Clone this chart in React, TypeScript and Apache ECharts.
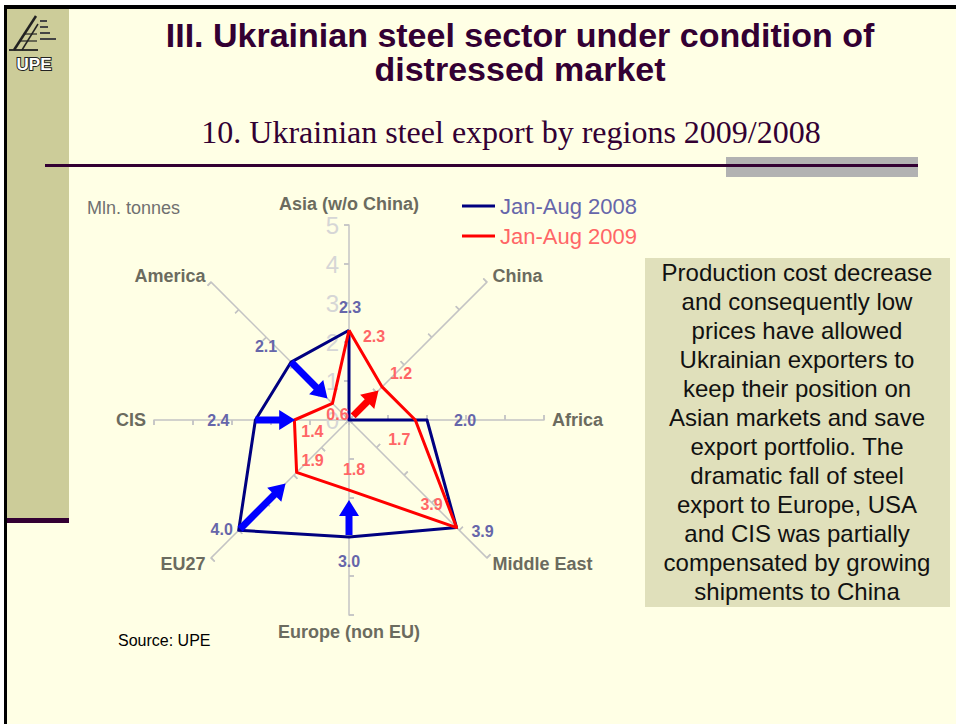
import React, { useEffect, useRef } from 'react';
import * as echarts from 'echarts';

// ---------- data ----------
const indicators = ['Asia (w/o China)', 'America', 'CIS', 'EU27', 'Europe (non EU)', 'Middle East', 'Africa', 'China'];
const axisMin = 0;
const axisMax = 5;
const seriesNames = ['Jan-Aug 2008', 'Jan-Aug 2009'];
const values2008 = [2.3, 2.1, 2.4, 4.0, 3.0, 3.9, 2.0, 0];
const values2009 = [2.3, 0.6, 1.4, 1.9, 1.8, 3.9, 1.7, 1.2];
// annotation arrows (indicator index, from value, to value, series)
const arrowIndicator = [1, 2, 3, 4, 7];
const arrowFrom = [2.1, 2.4, 3.95, 2.95, 0.15];
const arrowTo = [0.78, 1.38, 2.3, 2.05, 1.07];
const arrowSeries = [0, 0, 0, 0, 1];

const titleText = 'III. Ukrainian steel sector under condition of\ndistressed market';
const subtitleText = '10. Ukrainian steel export by regions 2009/2008';
const unitText = 'Mln. tonnes';
const sourceText = 'Source: UPE';
const noteLines = [
  'Production cost decrease',
  'and consequently low',
  'prices have allowed',
  'Ukrainian exporters to',
  'keep their position on',
  'Asian markets and save',
  'export portfolio. The',
  'dramatic fall of steel',
  'export to Europe, USA',
  'and CIS was partially',
  'compensated by growing',
  'shipments to China',
];

// ---------- styles ----------
const SANS = '"Liberation Sans", Arial, sans-serif';
const SERIF = '"Liberation Serif", "Times New Roman", serif';
const lineColors = ['#000080', '#FF0000'];
const labelColors = ['#6666AA', '#FF6666'];
const arrowColors = ['#0000FF', '#FF0000'];
const labelOffsets: (number[] | null)[][] = [
  [[1, -23], [-25, -16], [-37, 0], [-17, -1], [0, 24], [26, 4], [38, 0], null],
  [[25, 6], [5, 11], [18, 11], [16, -12], [5, -21], [-25, -23], [-16, 19], [19, -13]],
];
const CENTER = [349, 420];
const RADIUS = 195;

function arrowPoints(p0: number[], p1: number[], shaftW = 7, headW = 20, headL = 16) {
  const dx = p1[0] - p0[0];
  const dy = p1[1] - p0[1];
  const len = Math.hypot(dx, dy) || 1;
  const ux = dx / len, uy = dy / len;
  const nx = -uy, ny = ux;
  const bx = p1[0] - ux * headL, by = p1[1] - uy * headL;
  return [
    [p0[0] + nx * shaftW / 2, p0[1] + ny * shaftW / 2],
    [bx + nx * shaftW / 2, by + ny * shaftW / 2],
    [bx + nx * headW / 2, by + ny * headW / 2],
    [p1[0], p1[1]],
    [bx - nx * headW / 2, by - ny * headW / 2],
    [bx - nx * shaftW / 2, by - ny * shaftW / 2],
    [p0[0] - nx * shaftW / 2, p0[1] - ny * shaftW / 2],
  ];
}

function baseGraphics(): any[] {
  return [
    // white page margins
    { type: 'rect', silent: true, shape: { x: 0, y: 0, width: 956, height: 5 }, style: { fill: '#FFFFFF' } },
    { type: 'rect', silent: true, shape: { x: 0, y: 0, width: 4, height: 724 }, style: { fill: '#FFFFFF' } },
    // black frame
    { type: 'rect', silent: true, shape: { x: 4, y: 5, width: 952, height: 4 }, style: { fill: '#000000' } },
    { type: 'rect', silent: true, shape: { x: 4, y: 5, width: 3, height: 719 }, style: { fill: '#000000' } },
    // sidebar
    { type: 'rect', silent: true, shape: { x: 7, y: 9, width: 62, height: 509 }, style: { fill: '#CCCC99' } },
    { type: 'rect', silent: true, shape: { x: 7, y: 518, width: 62, height: 5 }, style: { fill: '#330033' } },
    // logo
    { type: 'polyline', silent: true, shape: { points: [[14, 50], [36, 16]] }, style: { stroke: '#222222', lineWidth: 2.5, fill: null } },
    { type: 'polyline', silent: true, shape: { points: [[22, 50], [38, 24]] }, style: { stroke: '#222222', lineWidth: 1.5, fill: null } },
    { type: 'polyline', silent: true, shape: { points: [[24, 34], [37, 34]] }, style: { stroke: '#222222', lineWidth: 1.2, fill: null } },
    { type: 'polyline', silent: true, shape: { points: [[20, 41], [37, 41]] }, style: { stroke: '#222222', lineWidth: 1.2, fill: null } },
    { type: 'polyline', silent: true, shape: { points: [[9, 50], [38, 50]] }, style: { stroke: '#222222', lineWidth: 1.8, fill: null } },
    { type: 'rect', silent: true, shape: { x: 40, y: 20, width: 7, height: 2 }, style: { fill: '#444444' } },
    { type: 'rect', silent: true, shape: { x: 40, y: 26, width: 8, height: 2 }, style: { fill: '#444444' } },
    { type: 'rect', silent: true, shape: { x: 40, y: 32, width: 10, height: 2 }, style: { fill: '#444444' } },
    { type: 'rect', silent: true, shape: { x: 40, y: 38, width: 16, height: 2 }, style: { fill: '#444444' } },
    {
      type: 'text', silent: true, x: 34, y: 64,
      style: { text: 'UPE', font: `bold 17px ${SANS}`, fill: '#FFFFFF', stroke: '#222222', lineWidth: 2, align: 'center', verticalAlign: 'middle' },
    },
    // title
    {
      type: 'text', silent: true, x: 520, y: 35,
      style: { text: 'III. Ukrainian steel sector under condition of', font: `bold 34px ${SANS}`, fill: '#330033', align: 'center', verticalAlign: 'middle' },
    },
    {
      type: 'text', silent: true, x: 520, y: 69,
      style: { text: 'distressed market', font: `bold 34px ${SANS}`, fill: '#330033', align: 'center', verticalAlign: 'middle' },
    },
    {
      type: 'text', silent: true, x: 511, y: 132,
      style: { text: subtitleText, font: `32px ${SERIF}`, fill: '#330033', align: 'center', verticalAlign: 'middle' },
    },
    { type: 'rect', silent: true, shape: { x: 726, y: 157, width: 192, height: 20 }, style: { fill: '#B2B2B2' } },
    { type: 'rect', silent: true, shape: { x: 45, y: 164, width: 873, height: 3 }, style: { fill: '#330033' } },
    // unit & source
    {
      type: 'text', silent: true, x: 87, y: 208,
      style: { text: unitText, font: `18px ${SANS}`, fill: '#707070', align: 'left', verticalAlign: 'middle' },
    },
    {
      type: 'text', silent: true, x: 118, y: 640,
      style: { text: sourceText, font: `16px ${SANS}`, fill: '#000000', align: 'left', verticalAlign: 'middle' },
    },
    // note box
    { type: 'rect', silent: true, shape: { x: 645, y: 258, width: 305, height: 349 }, style: { fill: '#E0E0BB' } },
    {
      type: 'text', silent: true, x: 797, y: 258,
      style: { text: noteLines.join('\n'), font: `24px ${SANS}`, lineHeight: 29, fill: '#111111', align: 'center', verticalAlign: 'top' },
    },
  ];
}

function buildOption(extraGraphics: any[]) {
  const allValues = [values2008, values2009];
  const mainSeries = allValues.map((vals, s) => ({
    type: 'radar',
    radarIndex: 0,
    name: seriesNames[s],
    symbol: 'none',
    silent: true,
    z: 2,
    emphasis: { disabled: true },
    lineStyle: { color: lineColors[s], width: 3 },
    itemStyle: { color: lineColors[s] },
    data: [{ value: vals, name: seriesNames[s], lineStyle: { color: lineColors[s], width: 3 }, itemStyle: { color: lineColors[s] } }],
  }));
  const labelSeries: any[] = [];
  allValues.forEach((vals, s) => {
    vals.forEach((v, k) => {
      const off = labelOffsets[s][k];
      if (!off) return;
      labelSeries.push({
        type: 'radar',
        radarIndex: 0,
        name: `label-${s}-${k}`,
        symbol: 'circle',
        symbolSize: 1,
        silent: true,
        z: 4,
        emphasis: { disabled: true },
        itemStyle: { color: 'rgba(0,0,0,0)', borderWidth: 0 },
        lineStyle: { width: 0, opacity: 0 },
        label: {
          show: true,
          position: 'inside',
          offset: off,
          color: labelColors[s],
          fontSize: 16,
          fontWeight: 'bold',
          fontFamily: SANS,
          formatter: (p: any) => (p.value === v ? v.toFixed(1) : ''),
        },
        data: [{ value: vals, name: `label-${s}-${k}` }],
      });
    });
  });

  return {
    animation: false,
    backgroundColor: '#FFFFE5',
    legend: {
      orient: 'vertical',
      left: 462,
      top: 195,
      padding: 0,
      itemWidth: 33,
      itemHeight: 3,
      itemGap: 8,
      icon: 'rect',
      selectedMode: false,
      textStyle: { fontSize: 22, fontFamily: SANS },
      data: seriesNames.map((n, s) => ({ name: n, textStyle: { color: labelColors[s] }, itemStyle: { color: lineColors[s] } })),
    },
    radar: [
      {
        center: CENTER,
        radius: RADIUS,
        startAngle: 90,
        splitNumber: 5,
        shape: 'polygon',
        axisNameGap: 8,
        indicator: indicators.map((name, i) => {
          const ind: any = { name, min: axisMin, max: axisMax };
          if (i === 0) {
            ind.axisLabel = { show: true, fontSize: 24, color: '#D6D6D6', margin: 10, fontFamily: SANS };
          }
          return ind;
        }),
        axisName: { color: '#6B6B5F', fontSize: 18, fontWeight: 'bold', fontFamily: SANS },
        axisLine: { show: true, lineStyle: { color: '#C4C4C4', width: 1.5 } },
        axisTick: { show: true, length: 5, lineStyle: { color: '#C4C4C4', width: 1.5 } },
        axisLabel: { show: false },
        splitLine: { show: false },
        splitArea: { show: false },
      },
      {
        center: CENTER,
        radius: RADIUS,
        startAngle: 90,
        splitNumber: 5,
        shape: 'polygon',
        indicator: indicators.map(() => ({ name: '', min: axisMin, max: axisMax })),
        axisName: { show: false },
        axisLine: { show: false },
        axisTick: { show: true, inside: true, length: 5, lineStyle: { color: '#C4C4C4', width: 1.5 } },
        axisLabel: { show: false },
        splitLine: { show: false },
        splitArea: { show: false },
      },
    ],
    graphic: [...baseGraphics(), ...extraGraphics],
    series: [...mainSeries, ...labelSeries],
  };
}

export default function App() {
  const ref = useRef<HTMLDivElement>(null);
  useEffect(() => {
    document.body.style.margin = '0';
    const chart = echarts.init(ref.current!, null, { renderer: 'svg' });
    chart.setOption(buildOption([]) as any);
    let arrows: any[] = [];
    try {
      const cs = (chart as any).getModel().getComponent('radar', 0).coordinateSystem;
      arrows = arrowIndicator.map((ind, i) => {
        const p0 = cs.dataToPoint(arrowFrom[i], ind);
        const p1 = cs.dataToPoint(arrowTo[i], ind);
        return {
          type: 'polygon',
          silent: true,
          z: 10,
          shape: { points: arrowPoints(p0, p1) },
          style: { fill: arrowColors[arrowSeries[i]] },
        };
      });
    } catch (e) {
      arrows = [];
    }
    chart.setOption(buildOption(arrows) as any, true);
    return () => chart.dispose();
  }, []);
  return <div ref={ref} style={{ width: 956, height: 724 }} />;
}
